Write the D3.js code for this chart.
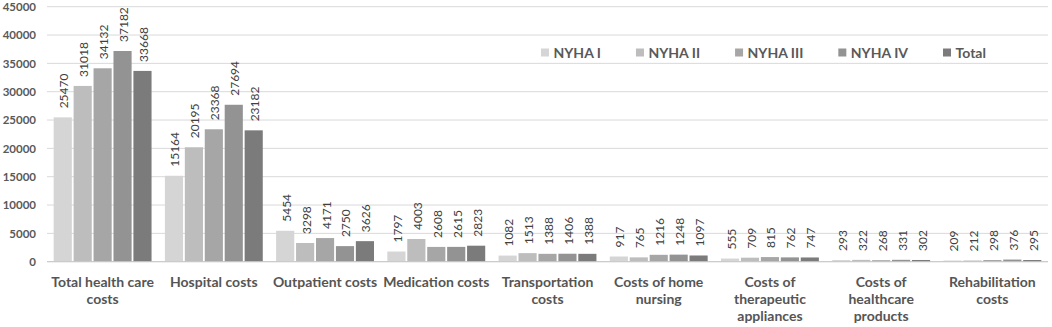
<!DOCTYPE html>
<html>
<head>
	<meta charset="utf-8">
	<title>Costs by NYHA class</title>
	<style>
		body { margin: 0; background: #fff; }
		svg text { font-family: Lato, "Open Sans", sans-serif; }
	</style>
</head>
<body>
	<svg id="container" width="1052" height="327"></svg>
<script src="https://cdn.jsdelivr.net/npm/d3@7/dist/d3.min.js"></script>
<script>
	// categories along the x axis
	let categories = ["Total health care costs", "Hospital costs", "Outpatient costs",
		"Medication costs", "Transportation costs", "Costs of home nursing",
		"Costs of therapeutic appliances", "Costs of healthcare products", "Rehabilitation costs"]

	let seriesNames = ["NYHA I", "NYHA II", "NYHA III", "NYHA IV", "Total"]

	// one array per series, same order as categories
	let nyha1 = [25470, 15164, 5454, 1797, 1082, 917, 555, 293, 209]
	let nyha2 = [31018, 20195, 3298, 4003, 1513, 765, 709, 322, 212]
	let nyha3 = [34132, 23368, 4171, 2608, 1388, 1216, 815, 268, 298]
	let nyha4 = [37182, 27694, 2750, 2615, 1406, 1248, 762, 331, 376]
	let total = [33668, 23182, 3626, 2823, 1388, 1097, 747, 302, 295]

	let yTicks = [0, 5000, 10000, 15000, 20000, 25000, 30000, 35000, 40000, 45000]

	let colors = ["#d5d5d5", "#bdbdbd", "#a6a6a6", "#939393", "#7b7b7b"]

	let series = [nyha1, nyha2, nyha3, nyha4, total]

	let svg = d3.select("#container")

	let plotLeft = 47, plotRight = 1048, plotTop = 6.7, plotBottom = 261.7

	let x0 = d3.scaleBand()
		.domain(categories)
		.range([plotLeft, plotRight])
		.paddingInner(0.12)
		.paddingOuter(0.06)

	let x1 = d3.scaleBand()
		.domain(seriesNames)
		.range([0, x0.bandwidth()])
		.paddingInner(0.09)

	let y = d3.scaleLinear()
		.domain([0, 45000])
		.range([plotBottom, plotTop])

	// gridlines
	svg.append("g")
		.selectAll("line")
		.data(yTicks)
		.enter()
		.append("line")
			.attr("x1", plotLeft)
			.attr("x2", plotRight)
			.attr("y1", d => y(d))
			.attr("y2", d => y(d))
			.attr("stroke", "#d9d9d9")
			.attr("stroke-width", 1)

	// y axis labels
	let yAxis = svg.append("g")
		.attr("transform", `translate(${plotLeft},0)`)
		.call(d3.axisLeft(y).tickValues(yTicks).tickSize(0).tickPadding(11).tickFormat(d3.format("d")))
	yAxis.select(".domain").remove()
	yAxis.selectAll("text")
		.attr("font-family", "Lato, sans-serif")
		.attr("font-size", "11.5px")
		.attr("font-weight", "bold")
		.attr("fill", "#595959")

	// bars
	let groups = svg.append("g")
		.selectAll("g")
		.data(categories)
		.enter()
		.append("g")
			.attr("transform", d => `translate(${x0(d)},0)`)

	let cells = groups.selectAll("g")
		.data((c, i) => seriesNames.map((s, j) => ({ s: s, j: j, v: series[j][i] })))
		.enter()
		.append("g")

	cells.append("rect")
		.attr("x", d => x1(d.s))
		.attr("y", d => y(d.v))
		.attr("width", x1.bandwidth())
		.attr("height", d => y(0) - y(d.v))
		.attr("fill", d => colors[d.j])

	cells.append("text")
		.text(d => d.v)
		.attr("transform", d => `translate(${x1(d.s) + x1.bandwidth() / 2 + 1},${y(d.v) - 9}) rotate(-90)`)
		.attr("dominant-baseline", "central")
		.attr("font-size", "12px")
		.attr("fill", "#404040")

	// baseline
	svg.append("line")
		.attr("x1", plotLeft)
		.attr("x2", plotRight)
		.attr("y1", y(0))
		.attr("y2", y(0))
		.attr("stroke", "#c8c8c8")

	// category labels, wrapped to the band width
	let xLabels = svg.append("g")
		.selectAll("text")
		.data(categories)
		.enter()
		.append("text")
			.attr("x", d => x0(d) + x0.bandwidth() / 2)
			.attr("y", 286.5)
			.attr("text-anchor", "middle")
			.attr("font-size", "14px")
			.attr("font-weight", "bold")
			.attr("fill", "#555555")

	xLabels.each(function(d) {
		let el = d3.select(this)
		let words = d.split(" ")
		let cx = x0(d) + x0.bandwidth() / 2
		let line = []
		let tspan = el.append("tspan").attr("x", cx).attr("dy", 0)
		words.forEach(w => {
			line.push(w)
			tspan.text(line.join(" "))
			if (tspan.node().getComputedTextLength() > x0.step() - 4 && line.length > 1) {
				line.pop()
				tspan.text(line.join(" "))
				line = [w]
				tspan = el.append("tspan").attr("x", cx).attr("dy", 17).text(w)
			}
		})
	})

	// legend
	let legend = svg.append("g")
	let lx = 541
	seriesNames.forEach((s, j) => {
		legend.append("rect")
			.attr("x", lx)
			.attr("y", 48.5)
			.attr("width", 8)
			.attr("height", 8)
			.attr("fill", colors[j])
		let t = legend.append("text")
			.attr("x", lx + 12.5)
			.attr("y", 57.5)
			.attr("font-size", "14px")
			.attr("font-weight", "bold")
			.attr("fill", "#595959")
			.text(s)
		lx += 12.5 + t.node().getComputedTextLength() + 35
	})
</script>
</body>
</html>
